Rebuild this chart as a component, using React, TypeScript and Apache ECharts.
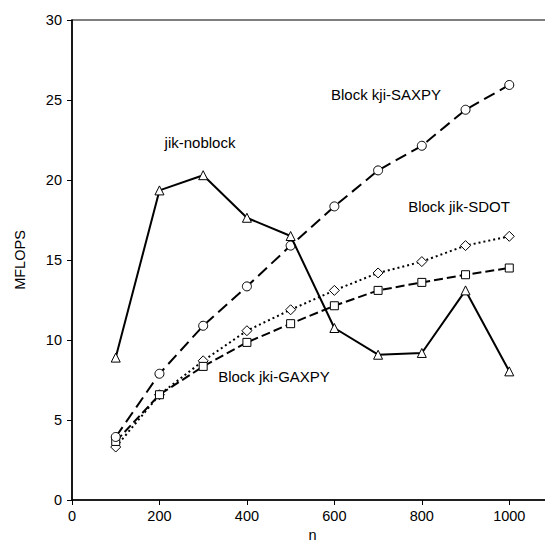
import React, { useEffect, useRef } from "react";
import * as echarts from "echarts";

const nValues = [100, 200, 300, 400, 500, 600, 700, 800, 900, 1000];
const jikNoblock = [8.9, 19.35, 20.3, 17.64, 16.5, 10.75, 9.08, 9.19, 13.1, 8.04];
const kjiSaxpy = [3.94, 7.89, 10.89, 13.35, 15.9, 18.35, 20.6, 22.14, 24.39, 25.94];
const jikSdot = [3.31, 6.58, 8.7, 10.58, 11.89, 13.1, 14.19, 14.9, 15.9, 16.48];
const jkiGaxpy = [3.66, 6.58, 8.35, 9.85, 11.02, 12.14, 13.1, 13.6, 14.08, 14.5];

const FONT = "Liberation Sans, Arial, sans-serif";

const pairs = (ys: number[]) => nValues.map((x, i) => [x, ys[i]]);

export default function App() {
  const ref = useRef<HTMLDivElement>(null);
  useEffect(() => {
    if (!ref.current) return;
    const chart = echarts.init(ref.current, null, { renderer: "svg" });
    const marker = (symbol: string, size: number) => ({
      symbol,
      symbolSize: size,
      itemStyle: { color: "#fff", borderColor: "#000", borderWidth: 1 },
    });
    chart.setOption({
      animation: false,
      backgroundColor: "#fff",
      grid: {
        left: 72,
        top: 20,
        width: 481,
        height: 480,
        outerBoundsMode: "none",
        containLabel: false,
        show: true,
        borderColor: "#000",
        borderWidth: 1.2,
      },
      xAxis: {
        type: "value",
        min: 0,
        max: 1100,
        interval: 200,
        name: "n",
        nameLocation: "middle",
        nameGap: 26,
        nameTextStyle: { fontFamily: FONT, fontSize: 14.5, color: "#000" },
        axisLine: { lineStyle: { color: "#000", width: 1.5 } },
        axisTick: { length: 5, lineStyle: { color: "#000" } },
        axisLabel: {
          fontFamily: FONT,
          fontSize: 14.5,
          color: "#000",
          margin: 8,
          formatter: (v: number) => (v > 1000 ? "" : String(v)),
        },
        splitLine: { show: false },
      },
      yAxis: {
        type: "value",
        min: 0,
        max: 30,
        interval: 5,
        name: "MFLOPS",
        nameLocation: "middle",
        nameGap: 45,
        nameTextStyle: { fontFamily: FONT, fontSize: 14.5, color: "#000" },
        axisLine: { show: true, lineStyle: { color: "#000", width: 1.5 } },
        axisTick: { show: true, length: 5, lineStyle: { color: "#000" } },
        axisLabel: { fontFamily: FONT, fontSize: 14.5, color: "#000", margin: 10 },
        splitLine: { show: false },
      },
      series: [
        {
          type: "line",
          name: "jik-noblock",
          data: pairs(jikNoblock),
          lineStyle: { color: "#000", width: 2, type: "solid" },
          ...marker("triangle", 9),
          z: 5,
        },
        {
          type: "line",
          name: "Block kji-SAXPY",
          data: pairs(kjiSaxpy),
          lineStyle: { color: "#000", width: 2, type: [12, 6] },
          ...marker("circle", 9),
          z: 4,
        },
        {
          type: "line",
          name: "Block jik-SDOT",
          data: pairs(jikSdot),
          lineStyle: { color: "#000", width: 2, type: [2, 3] },
          ...marker("diamond", 10),
          z: 3,
        },
        {
          type: "line",
          name: "Block jki-GAXPY",
          data: pairs(jkiGaxpy),
          lineStyle: { color: "#000", width: 2, type: [9, 4] },
          ...marker("rect", 8),
          z: 3,
        },
      ],
      graphic: [
        { type: "text", x: 200, y: 142, style: { text: "jik-noblock", font: `15px ${FONT}`, fill: "#000", textAlign: "center", textVerticalAlign: "middle" } },
        { type: "text", x: 386, y: 94, style: { text: "Block kji-SAXPY", font: `15px ${FONT}`, fill: "#000", textAlign: "center", textVerticalAlign: "middle" } },
        { type: "text", x: 459, y: 206, style: { text: "Block jik-SDOT", font: `15px ${FONT}`, fill: "#000", textAlign: "center", textVerticalAlign: "middle" } },
        { type: "text", x: 274, y: 376, style: { text: "Block jki-GAXPY", font: `15px ${FONT}`, fill: "#000", textAlign: "center", textVerticalAlign: "middle" } },
      ],
    });
    return () => chart.dispose();
  }, []);
  return <div ref={ref} style={{ position: "fixed", left: 0, top: 0, width: 545, height: 547 }} />;
}
